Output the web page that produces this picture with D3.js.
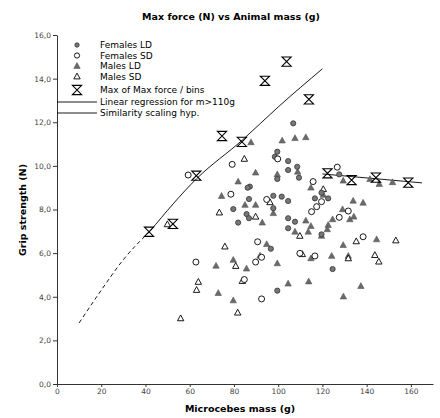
<!DOCTYPE html>
<html lang="en">
<head>
    <meta charset="UTF-8">
    <title>Max force vs Animal mass</title>
    <script src="https://cdn.jsdelivr.net/npm/d3@7"></script>
    <style>
        body { margin: 0; background: #fff; }
        text { font-family: "DejaVu Sans", sans-serif; }
    </style>
</head>
<body>
<script>

    // data: [mass (g), grip strength (N)]
    var femalesLD = [
        [106.8,11.95],[99.6,10.65],[98.5,10.42],[104.5,10.22],[108.6,9.96],[104.5,9.81],
        [109.4,9.46],[99.6,9.40],[87.2,9.05],[86.2,9.0],[86.8,8.48],[97.8,8.63],
        [101.6,8.59],[104.5,8.39],[79.7,8.02],[97.8,8.06],[85.7,7.79],[86.8,7.60],
        [81.9,7.40],[104.5,7.60],[107.6,7.44],[104.5,7.14],[96.7,6.20],[99.6,4.28],
        [127.6,9.61],[119.6,8.77],[122.6,8.51],[116.6,8.51],[119.6,6.86],[124.6,5.27]
    ];
    var femalesSD = [
        [99.8,10.32],[79.2,10.07],[78.6,8.70],[94.8,8.46],[115.8,9.28],[59.3,9.58],
        [126.7,9.94],[115.1,7.90],[117.4,8.13],[119.6,8.36],[90.7,6.52],[89.8,5.59],
        [92.5,5.81],[109.8,5.99],[116.6,5.87],[62.8,5.59],[84.7,4.79],[92.5,3.90],
        [127.6,7.64],[131.7,7.93],[138.4,6.75]
    ];
    var malesLD = [
        [101.8,11.16],[107.6,11.27],[112.5,11.31],[87.7,11.08],[89.8,9.69],[99.6,9.61],
        [108.8,9.73],[81.9,9.28],[114.8,9.0],[85.0,8.21],[89.8,8.21],[74.4,8.62],
        [92.8,7.40],[97.8,7.83],[112.5,7.49],[114.8,7.24],[107.6,6.98],[113.6,6.98],
        [119.6,6.79],[94.8,6.41],[91.8,5.88],[79.7,5.69],[85.7,5.29],[99.6,5.53],
        [114.8,5.76],[71.9,5.42],[72.9,4.17],[79.7,3.83],[104.5,4.60],[113.8,4.70],
        [129.5,4.01],[137.4,4.49],[129.4,9.32],[141.5,9.39],[145.7,9.17],[151.7,9.25],
        [120.4,8.67],[133.9,8.40],[138.4,8.31],[129.1,8.01],[124.6,7.55],[132.4,7.55],
        [134.2,7.67],[122.6,7.29],[122.2,7.09],[129.4,6.37],[144.5,6.63],[124.2,5.87],
        [131.7,5.87]
    ];
    var malesSD = [
        [84.7,10.32],[49.9,7.32],[73.4,7.86],[89.8,7.67],[96.3,8.33],[120.4,8.93],
        [109.8,6.79],[75.9,6.30],[80.8,5.41],[110.9,5.95],[63.9,4.68],[63.1,4.31],
        [81.7,3.27],[55.9,3.01],[83.8,4.72],[135.3,6.54],[153.2,6.58],[143.7,5.91],
        [145.5,5.61],[131.7,5.76]
    ];
    var maxBins = [
        [41.6,6.98],[52.4,7.34],[63.0,9.55],[74.6,11.37],[83.6,11.1],[94.0,13.9],
        [103.8,14.78],[113.9,13.05],[122.3,9.66],[133.2,9.35],[144.2,9.46],[158.8,9.23]
    ];
    var regression = [[120,9.63],[165,9.22]];
    var similarity = [[10,2.8],[20,4.3],[30,5.7],[42,7.0],[63,9.4],[84,11.2],[100,12.7],[120,14.45]];

    var xTicks = [0,20,40,60,80,100,120,140,160];
    var yTicks = [0,2,4,6,8,10,12,14,16];

    var width = 440, height = 418;

    var svg = d3.select("body").append("svg")
        .attr("width", width)
        .attr("height", height);

    var x = d3.scaleLinear().domain([0,170]).range([57,433]);
    var y = d3.scaleLinear().domain([0,16]).range([384,35]);

    // title
    svg.append("text")
        .attr("x", 231).attr("y", 20)
        .attr("text-anchor", "middle")
        .attr("font-size", "9.5px").attr("font-weight", "bold")
        .text("Max force (N) vs Animal mass (g)");

    // axes
    var xAxis = svg.append("g")
        .attr("transform", "translate(0," + y(0) + ")")
        .call(d3.axisBottom(x).tickValues(xTicks).tickSize(3).tickSizeOuter(0).tickPadding(2));
    var yAxis = svg.append("g")
        .attr("transform", "translate(" + x(0) + ",0)")
        .call(d3.axisLeft(y).tickValues(yTicks).tickSize(4).tickSizeOuter(0).tickPadding(2)
            .tickFormat(function (d) { return d.toFixed(1).replace(".", ","); }));
    [xAxis, yAxis].forEach(function (g) {
        g.selectAll("text").attr("font-size", "7.5px").attr("fill", "#444")
            .attr("font-family", "DejaVu Sans, sans-serif");
        g.selectAll("line, path").attr("stroke", "#333");
    });

    svg.append("text")
        .attr("x", 240).attr("y", 412)
        .attr("text-anchor", "middle")
        .attr("font-size", "9.5px").attr("font-weight", "bold")
        .text("Microcebes mass (g)");
    svg.append("text")
        .attr("transform", "translate(26,210) rotate(-90)")
        .attr("text-anchor", "middle")
        .attr("font-size", "9.5px").attr("font-weight", "bold")
        .text("Grip strength (N)");

    // lines
    var line = d3.line().x(function (d) { return x(d[0]); }).y(function (d) { return y(d[1]); })
        .curve(d3.curveMonotoneX);
    svg.append("path")
        .datum(similarity.filter(function (d) { return d[0] <= 42; }))
        .attr("d", line).attr("fill", "none").attr("stroke", "#000")
        .attr("stroke-width", 0.9).attr("stroke-dasharray", "4,3");
    svg.append("path")
        .datum(similarity.filter(function (d) { return d[0] >= 42; }))
        .attr("d", line).attr("fill", "none").attr("stroke", "#000").attr("stroke-width", 0.9);
    svg.append("path")
        .datum(regression)
        .attr("d", d3.line().x(function (d) { return x(d[0]); }).y(function (d) { return y(d[1]); }))
        .attr("fill", "none").attr("stroke", "#000").attr("stroke-width", 0.9);

    // symbols
    var triPath = "M0,-3.4L3.2,2.4L-3.2,2.4Z";
    var hourglass = "M-4.6,-4.6H4.6L-4.6,4.6H4.6Z";

    function dots(data, cls, draw) {
        svg.append("g").selectAll("." + cls)
            .data(data).enter()
            .append(draw.tag)
            .attr("class", cls)
            .each(function (d) { draw.set(d3.select(this), d); });
    }

    dots(malesLD, "mld", { tag: "path", set: function (s, d) {
        s.attr("d", triPath).attr("transform", "translate(" + x(d[0]) + "," + y(d[1]) + ")")
            .attr("fill", "#6a6a6a").attr("stroke", "#555").attr("stroke-width", 0.6);
    }});
    dots(malesSD, "msd", { tag: "path", set: function (s, d) {
        s.attr("d", triPath).attr("transform", "translate(" + x(d[0]) + "," + y(d[1]) + ")")
            .attr("fill", "#fff").attr("stroke", "#000").attr("stroke-width", 0.9);
    }});
    dots(femalesLD, "fld", { tag: "circle", set: function (s, d) {
        s.attr("cx", x(d[0])).attr("cy", y(d[1])).attr("r", 2.6)
            .attr("fill", "#777").attr("stroke", "#333").attr("stroke-width", 0.8);
    }});
    dots(femalesSD, "fsd", { tag: "circle", set: function (s, d) {
        s.attr("cx", x(d[0])).attr("cy", y(d[1])).attr("r", 3)
            .attr("fill", "#fff").attr("stroke", "#000").attr("stroke-width", 0.9);
    }});
    dots(maxBins, "mx", { tag: "path", set: function (s, d) {
        s.attr("d", hourglass).attr("transform", "translate(" + x(d[0]) + "," + y(d[1]) + ")")
            .attr("fill", "none").attr("stroke", "#000").attr("stroke-width", 1.1);
    }});

    // legend
    var lg = svg.append("g").attr("font-size", "9px");
    var items = ["Females LD", "Females SD", "Males LD", "Males SD", "Max of Max force / bins",
        "Linear regression for m>110g", "Similarity scaling hyp."];
    var rows = [45, 55.5, 66, 76.5, 90, 102, 113];
    items.forEach(function (t, i) {
        lg.append("text").attr("x", 100).attr("y", rows[i] + 3.2).text(t);
    });
    lg.append("circle").attr("cx", 77).attr("cy", rows[0]).attr("r", 2.2)
        .attr("fill", "#777").attr("stroke", "#333").attr("stroke-width", 0.8);
    lg.append("circle").attr("cx", 77).attr("cy", rows[1]).attr("r", 2.6)
        .attr("fill", "#fff").attr("stroke", "#000").attr("stroke-width", 0.9);
    lg.append("path").attr("d", triPath).attr("transform", "translate(77," + rows[2] + ")")
        .attr("fill", "#6a6a6a").attr("stroke", "#555").attr("stroke-width", 0.6);
    lg.append("path").attr("d", triPath).attr("transform", "translate(77," + rows[3] + ")")
        .attr("fill", "#fff").attr("stroke", "#000").attr("stroke-width", 0.9);
    lg.append("path").attr("d", hourglass).attr("transform", "translate(77," + rows[4] + ")")
        .attr("fill", "none").attr("stroke", "#000").attr("stroke-width", 1.1);
    [rows[5], rows[6]].forEach(function (r) {
        lg.append("line").attr("x1", x(0)).attr("x2", 97).attr("y1", r).attr("y2", r)
            .attr("stroke", "#000").attr("stroke-width", 0.9);
    });

</script>
</body>
</html>
